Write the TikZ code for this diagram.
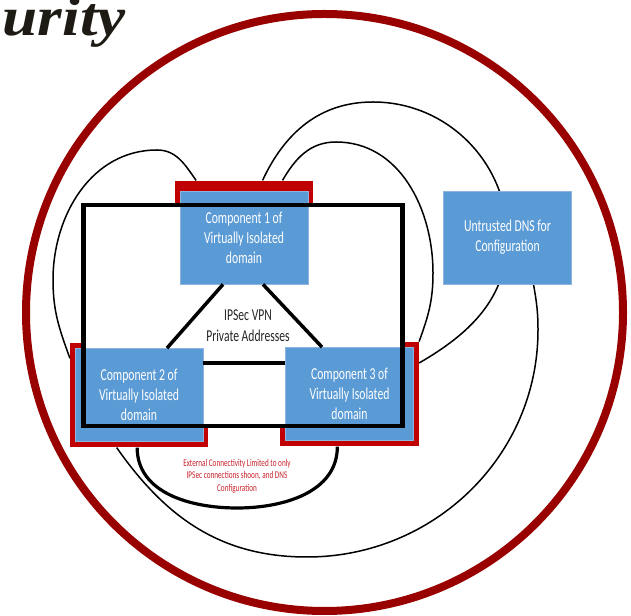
\documentclass[tikz,border=0pt]{standalone}
\usepackage{fontspec}
\usepackage{tikz}
\usetikzlibrary{backgrounds, fit, calc}
\newfontfamily\boxfont[FakeStretch=0.7]{Carlito}
\newfontfamily\titlefont[FakeStretch=1.15]{Liberation Serif}
\definecolor{ringred}{HTML}{990000}
\definecolor{framered}{HTML}{C00000}
\definecolor{boxblue}{HTML}{5B9BD5}
\definecolor{boxedge}{HTML}{8FB4DE}
\definecolor{notered}{HTML}{C8202A}
\definecolor{inkgray}{HTML}{262626}
\definecolor{titleink}{HTML}{1E1B14}

\begin{document}
\begin{tikzpicture}[x=1pt, y=1pt,
  comp/.style={fill=boxblue, draw=boxedge, line width=0.8pt, minimum width=128pt,
    minimum height=93pt, inner sep=0pt, align=center, text=white,
    font=\boxfont\fontsize{16.7}{20}\selectfont},
  redframe/.style={fill=framered, inner sep=0pt},
  orbit/.style={line width=1.5pt},
  vpnlink/.style={line width=3.5pt}]
  \useasboundingbox (0,0) rectangle (631,615);

  \node[font=\titlefont\bfseries\itshape\fontsize{55}{55}\selectfont, text=titleink,
    anchor=base east, inner sep=0pt] (title) at (126,579) {urity};

  % the domain and its components
  \coordinate (vpnsw) at (83.5,189);
  \coordinate (vpnne) at (402.5,410);
  \node[comp] (c1) at (244,377.5) {Component 1 of\\Virtually Isolated\\domain};
  \node[comp] (c2) at (139,220) {Component 2 of\\Virtually Isolated\\domain};
  \node[comp] (c3) at (349.5,221) {Component 3 of\\Virtually Isolated\\domain};
  \node[comp] (dns) at (507.5,377.5) {Untrusted DNS for\\Configuration};
  \node[align=center, text=inkgray, font=\boxfont\fontsize{16.6}{21}\selectfont]
    (vpn) at (248,289) {IPSec VPN\\Private Addresses};
  \node[align=center, text=notered, font=\boxfont\fontsize{10.3}{12.5}\selectfont]
    (note) at (237,139) {External Connectivity Limited to only\\IPSec connections shoon, and DNS\\Configuration};
  \draw[line width=4.2pt] (vpnsw) rectangle (vpnne);

  % the triangle
  \draw[vpnlink] ([xshift=-21pt]c1.south) -- ([xshift=28pt]c2.north);
  \draw[vpnlink] ([xshift=19pt]c1.south) -- ([xshift=-27.5pt]c3.north);
  \draw[vpnlink] ([yshift=32pt]c2.east) -- ([yshift=31pt]c3.west);

  \begin{scope}[on background layer]
    \draw[ringred, line width=8pt] (324.5,302.5) circle[radius=298.5];
    \node[redframe, fit=(c1), inner xsep=5pt, inner ysep=10pt] (f1) {};
    \node[redframe, fit=(c2), inner xsep=4.5pt, inner ysep=5.5pt] (f2) {};
    \node[redframe, fit=(c3), inner xsep=5pt, inner ysep=5.5pt] (f3) {};
    % loops round the components
    \draw[orbit] (f1.130) to[out=125,in=0] (157,465) to[out=180,in=90] (53,335)
      to[out=-90,in=110] (f2.152);
    \draw[orbit] (f1.72) to[out=65,in=180] (373,513) to[out=0,in=90] (dns.center)
      to[out=-90,in=30] (f3.24);
    \draw[orbit] (f1.56) to[out=60,in=180] (336,473) to[out=0,in=90] (433,342)
      to[out=-90,in=70] (f3.37);
    \draw[orbit] (f2.247) to[out=-55,in=180] (307,58) to[out=0,in=-90] (538,285)
      to[out=90,in=-80] (dns.-61);
    \draw[line width=3.2pt] (f2.268) to[out=-90,in=180] (237,107) to[out=0,in=-90] (f3.257);
    \fill[white] (vpnsw) rectangle (vpnne);
  \end{scope}
\end{tikzpicture}
\end{document}
